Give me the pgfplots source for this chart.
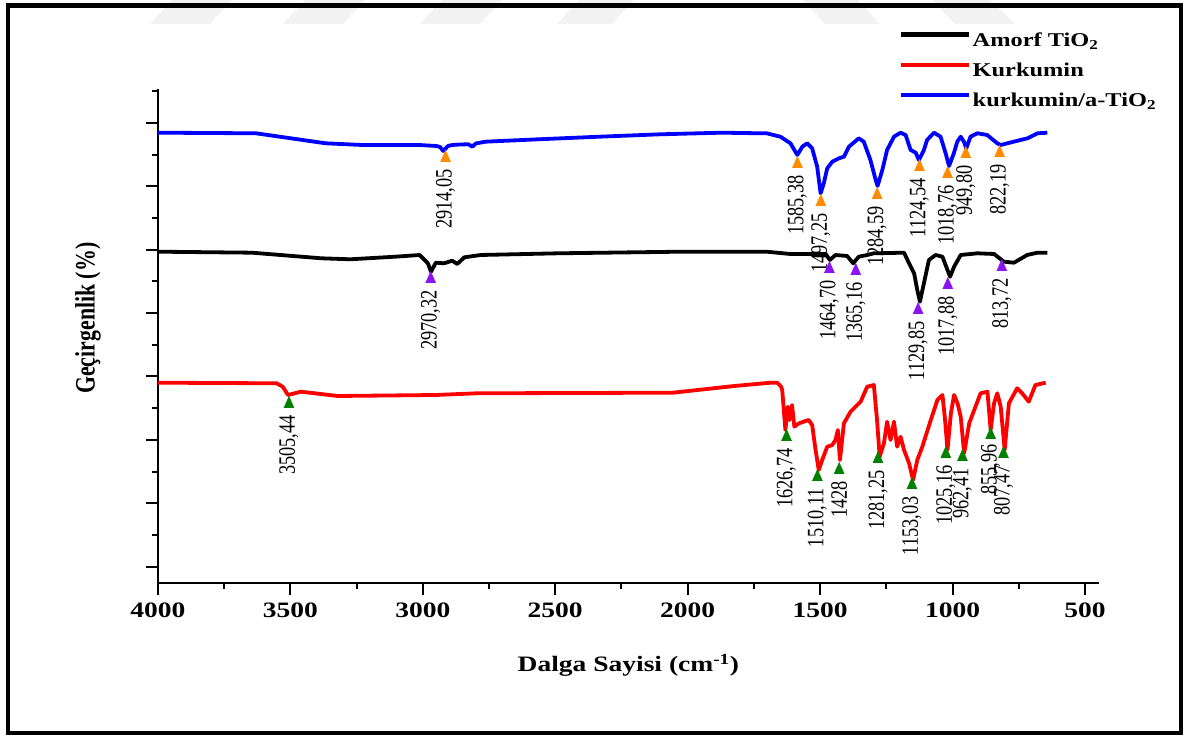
\documentclass[border=0pt]{standalone}
\usepackage{fontspec}
\setmainfont{Liberation Serif}
\newfontfamily\widefont[FakeStretch=1.25]{Liberation Serif}
\newfontfamily\narrowfont[FakeStretch=0.78]{Liberation Serif}
\usepackage{pgfplots}
\usepackage{pgfplotstable}
\pgfplotsset{compat=1.18}

\definecolor{cblue}{RGB}{0,0,255}
\definecolor{cred}{RGB}{255,0,0}
\definecolor{corange}{RGB}{255,140,0}
\definecolor{cpurple}{RGB}{140,20,240}
\definecolor{cgreen}{RGB}{0,128,0}

\pgfplotstableread{
x y
4000 450.3
3630 449.7
3367 439.7
3229 438
3014 438
2949 437
2935 436
2923 432
2905 437
2889 438
2860 438.5
2828 438.7
2813 436.3
2800 439.5
2764 441.3
2564 443.7
2333 446.3
2103 448.7
1872 450.3
1725 449.7
1702 449.7
1650 446.3
1612 439.7
1586 428
1567 436.3
1549 439.7
1530 434.7
1511 416.3
1498 389.7
1486 399.7
1473 414.7
1454 421.3
1429 424.7
1410 426.3
1391 436.3
1354 444.7
1335 441.3
1310 423
1290 403
1283 397
1265 413
1247 433
1221 446.3
1196 450.3
1177 448
1158 433
1139 430.3
1127 423
1108 433
1096 443
1070 450.3
1045 446.3
1026 429.7
1013 417
995 429.7
982 441.3
969 446.3
957 441.3
948 434.7
932 446.3
906 449.7
869 448
831 439.7
818 438
769 441.3
717 444.7
679 449.7
642 450.3
}\blueD

\pgfplotstableread{
x y
4000 331.3
3645 330.3
3383 324.7
3274 323.7
3104 326.3
3012 328
2981 319.7
2969 311.3
2951 320.3
2920 319.7
2889 322.3
2870 319
2843 325.7
2781 328
2488 329.7
2025 331.3
1702 331.3
1612 329
1536 329
1479 329
1463 323
1442 328
1398 327
1375 319.7
1354 326.3
1322 328
1297 329.7
1183 330.3
1164 319.7
1145 309.7
1133 293
1123 281.3
1108 299.7
1089 323
1064 328
1038 326.3
1019 313
1009 306.3
994 316.3
969 328
906 329.7
843 329
806 321.3
768 320.3
718 328
680 330.3
642 330.3
}\blackD

\pgfplotstableread{
x y
4000 200.3
3552 199.7
3529 196.3
3509 188
3460 191.3
3321 187
2951 188
2796 189.7
2056 190.3
1824 197
1686 200.3
1662 200.3
1647 196.3
1643 193
1631 153
1622 176.3
1615 163
1606 178
1597 156.3
1580 159.7
1543 163
1530 158
1517 133
1505 113
1492 123
1473 136.3
1454 138
1442 143
1433 153
1425 123
1410 159.7
1385 171.3
1347 181.3
1322 196.3
1297 198
1285 163
1275 126.3
1259 139.7
1247 161.3
1234 143
1221 161.3
1209 136.3
1196 146.3
1183 133
1164 119.7
1149 103
1133 123
1114 136.3
1082 163
1057 183
1038 188
1028 163
1019 133
1006 169.7
994 188
981 179.7
969 166.3
956 129.7
937 159.7
918 173
894 189.7
868 191.3
856 153
843 179.7
831 189.7
818 176.3
803 133
787 179.7
756 194.7
737 189.7
712 181.3
687 198
648 200.3
}\redD

% peak markers (triangle centre) and label tops
\pgfplotstableread{
x m t lab
2914.05 425 414 2914,05
1585.38 419 408 1585,38
1497.25 381 370 1497,25
1284.59 388 377 1284,59
1124.54 416 405 1124,54
1018.76 409 398 1018,76
949.80 429 418 949,80
822.19 430 419 822,19
}\blueP

\pgfplotstableread{
x m t lab
2970.32 304 293 2970,32
1464.70 314 303 1464,70
1365.16 312 301 1365,16
1129.85 273 262 1129,85
1017.88 298 287 1017,88
813.72 316 305 813,72
}\blackP

\pgfplotstableread{
x m t lab
3505.44 179 168 3505,44
1626.74 146 135 1626,74
1510.11 106 95 1510,11
1428 113 102 1428
1281.25 124 113 1281,25
1153.03 98 87 1153,03
1025.16 129 118 1025,16
962.41 126 115 962,41
855.96 148 139 855,96
807.47 129 118 807,47
}\redP

\begin{document}
\begin{tikzpicture}[x=1pt,y=1pt]
\useasboundingbox (0,0) rectangle (1188,736);
% faint watermark at the top
\fill[gray!10] (150,712) -- (210,712) -- (232,736) -- (172,736) -- cycle;
\fill[gray!10] (283,712) -- (343,712) -- (365,736) -- (305,736) -- cycle;
\fill[gray!10] (420,712) -- (480,712) -- (502,736) -- (442,736) -- cycle;
\fill[gray!10] (557,712) -- (612,712) -- (634,736) -- (579,736) -- cycle;
\fill[gray!10] (825,712) -- (880,712) -- (858,736) -- (803,736) -- cycle;
\fill[gray!10] (955,712) -- (1015,712) -- (990,736) -- (932,736) -- cycle;
% outer frame
\draw[line width=4.5pt] (8,730.7) -- (1181,730.7) -- (1181,3) -- (8,3) -- cycle;

\begin{axis}[
  scale only axis,
  width=940.7pt, height=494pt,
  at={(158pt,153pt)}, anchor=south west,
  x dir=reverse,
  xmin=448, xmax=4000, ymin=0, ymax=494,
  axis x line*=bottom, axis y line*=left,
  axis line style={-, line width=2.5pt},
  clip=false,
  xtick={500,1000,1500,2000,2500,3000,3500,4000},
  xticklabels={500,1000,1500,2000,2500,3000,3500,4000},
  minor xtick={750,1250,1750,2250,2750,3250,3750},
  ytick={16.3,79.7,143.1,206.5,269.9,333.3,396.7,460.1},
  minor ytick={48,111.4,174.8,238.2,301.6,365,428.4,491.8},
  yticklabels={},
  tick align=outside,
  major tick length=12pt, minor tick length=6pt,
  tick style={black, line width=2pt},
  xticklabel style={font=\widefont\bfseries\fontsize{22}{22}\selectfont, anchor=north, yshift=-4pt},
  xlabel={Dalga Sayisi (cm\textsuperscript{-1})},
  xlabel style={font=\widefont\bfseries\fontsize{22}{22}\selectfont, at={(axis description cs:0.5,-0.180)}, anchor=base},
  ylabel={Geçirgenlik (\%)},
  ylabel style={font=\narrowfont\bfseries\fontsize{28}{28}\selectfont, at={(axis description cs:-0.0744,0.536)}, anchor=center},
  legend style={at={(axis description cs:0.787,1.118)}, anchor=north west, draw=none, fill=none,
    font=\widefont\bfseries\fontsize{19.5}{19.5}\selectfont, row sep=11pt, inner sep=0pt,
    /tikz/every even column/.append style={column sep=2pt}},
  legend cell align=left,
  legend image code/.code={\draw[line width=4.2pt] (0pt,6pt) -- (68pt,6pt);},
]
% peak labels (drawn first, curves pass over them)
\addplot[forget plot, draw=none, mark=none, nodes near coords, point meta=explicit symbolic,
  every node near coord/.style={rotate=90, anchor=east, inner sep=0pt, text=black, font=\narrowfont\fontsize{23.5}{23.5}\selectfont}]
  table[x=x, y=t, meta=lab] {\blueP};
\addplot[forget plot, draw=none, mark=none, nodes near coords, point meta=explicit symbolic,
  every node near coord/.style={rotate=90, anchor=east, inner sep=0pt, text=black, font=\narrowfont\fontsize{23.5}{23.5}\selectfont}]
  table[x=x, y=t, meta=lab] {\blackP};
\addplot[forget plot, draw=none, mark=none, nodes near coords, point meta=explicit symbolic,
  every node near coord/.style={rotate=90, anchor=east, inner sep=0pt, text=black, font=\narrowfont\fontsize{23.5}{23.5}\selectfont}]
  table[x=x, y=t, meta=lab] {\redP};

\addplot[black, line width=3.8pt, line join=round] table {\blackD};
\addlegendentry{Amorf TiO\textsubscript{2}}
\addplot[cred, line width=3.8pt, line join=round] table {\redD};
\addlegendentry{Kurkumin}
\addplot[cblue, line width=3.8pt, line join=round] table {\blueD};
\addlegendentry{kurkumin/a-TiO\textsubscript{2}}

\addplot[forget plot, only marks, mark=triangle*, mark size=5.8pt, mark options={fill=corange, draw=corange, yscale=1.3}]
  table[x=x, y=m] {\blueP};
\addplot[forget plot, only marks, mark=triangle*, mark size=5.8pt, mark options={fill=cpurple, draw=cpurple, yscale=1.3}]
  table[x=x, y=m] {\blackP};
\addplot[forget plot, only marks, mark=triangle*, mark size=5.8pt, mark options={fill=cgreen, draw=cgreen, yscale=1.3}]
  table[x=x, y=m] {\redP};
\end{axis}
\end{tikzpicture}
\end{document}
